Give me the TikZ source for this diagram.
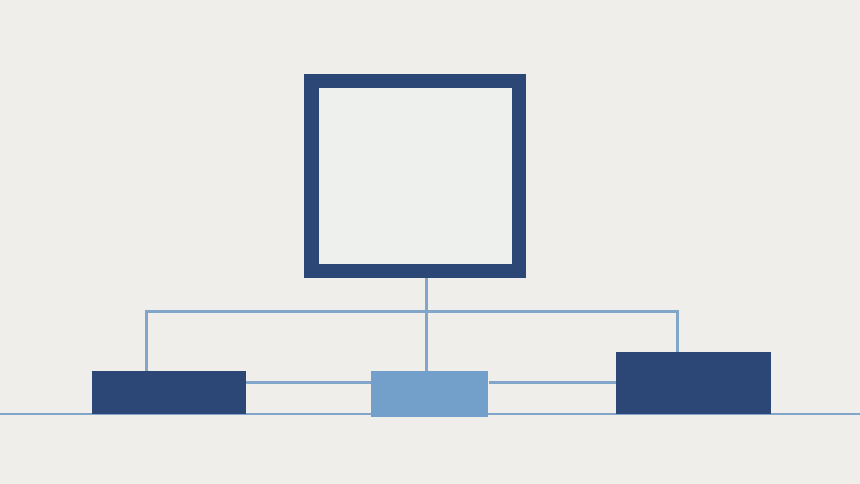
\documentclass[tikz,border=0pt]{standalone}
\usetikzlibrary{calc}
\definecolor{bgcol}{HTML}{EFEEEA}
\definecolor{darkblue}{HTML}{2C4676}
\definecolor{lightblue}{HTML}{72A0CA}
\definecolor{linkcol}{HTML}{82A6CA}
\definecolor{paper}{HTML}{EEF0EE}
\begin{document}
\begin{tikzpicture}[
            x=1pt, y=-1pt,
            block/.style={rectangle,inner sep=0pt,draw=none},
            link/.style={draw=linkcol,line width=3pt}
            ]
            \fill[bgcol] (0,0) rectangle (860,484);
            \useasboundingbox (0,0) rectangle (860,484);
            % ground line
            \coordinate (g0) at (0,414);
            \coordinate (g1) at (860,414);
            \draw[linkcol,line width=2pt] (g0) -- (g1);
            % top square
            \node[block,draw=darkblue,fill=paper,line width=14.5pt,
                  minimum width=207.5pt,minimum height=189.5pt] (top) at (415,176) {};
            % lower blocks
            \node[block,fill=darkblue,minimum width=153.7pt,minimum height=43.3pt] (left) at (169.2,392.4) {};
            \node[block,fill=lightblue,minimum width=117.6pt,minimum height=46.3pt] (mid) at (429.5,393.9) {};
            \node[block,fill=darkblue,minimum width=155pt,minimum height=62pt] (right) at (693.2,383) {};
            % connectors
            \coordinate (hub) at (426,311);
            \coordinate (jl) at (146,311);
            \coordinate (jr) at (677,311);
            \coordinate (yc) at (0,382);
            \draw[link] (top.south -| hub) -- (mid.north -| hub);
            \draw[link] (jl |- left.north) -- (jl) -- (jr) -- (jr |- right.north);
            \draw[link] (left.east |- yc) -- (mid.west |- yc);
            \draw[link] (mid.east |- yc) -- (right.west |- yc);
        \end{tikzpicture}
\end{document}
